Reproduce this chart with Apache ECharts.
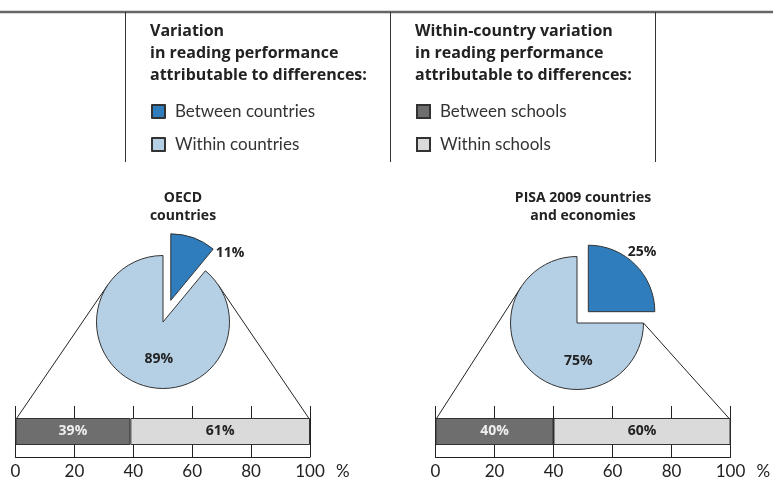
<!DOCTYPE html>
<html>
<head>
<meta charset="utf-8">
<script src="https://cdn.jsdelivr.net/npm/echarts@6/dist/echarts.min.js"></script>
</head>
<body style="margin:0;background:#fff">
<div id="main" style="width:773px;height:482px"></div>
<script>
// data
var pieTitles = ['OECD\ncountries', 'PISA 2009 countries\nand economies'];
var countryNames = ['Between countries', 'Within countries'];
var countryShares = [[11, 89], [25, 75]];
var schoolNames = ['Between schools', 'Within schools'];
var schoolShares = [[39, 61], [40, 60]];

// layout / style
var FONT = 'Lato';
var BOLD = 'Open Sans';
var blueDark = '#2f7dbd', blueLight = '#b5cfe5';
var grayDark = '#6e6e6e', grayLight = '#dadada';
var pieCenters = [[163, 322], [577, 323]];
var pieR = 66.5;
var pieOffsets = [23, 16];
var grids = [{left: 15.5, width: 294.5}, {left: 435.5, width: 295}];
var gridTop = 406, gridH = 51, barTop = 420;
// label nudges for [dark, light] slice of each pie
var labelShift = [[[47, -13], [8, 3]], [[28, -34], [27, 12]]];

var chart = echarts.init(document.getElementById('main'));

var series = [], xAxes = [], yAxes = [], gridOpt = [], titles = [], graphics = [];

var headStyle = {fontFamily: BOLD, fontSize: 16, fontWeight: 'bold', color: '#222', lineHeight: 22};
titles.push({text: 'Variation\nin reading performance\nattributable to differences:', left: 145, top: 15, textStyle: headStyle});
titles.push({text: 'Within-country variation\nin reading performance\nattributable to differences:', left: 410, top: 15, textStyle: headStyle});

// frame lines at top
graphics.push({type: 'line', shape: {x1: 0, y1: 12, x2: 773, y2: 12}, style: {stroke: '#666', lineWidth: 2.5}});
[125, 390, 655].forEach(function (x) {
  graphics.push({type: 'line', shape: {x1: x + 0.5, y1: 12, x2: x + 0.5, y2: 162}, style: {stroke: '#333', lineWidth: 1}});
});

countryShares.forEach(function (vals, k) {
  var c = pieCenters[k];
  titles.push({text: pieTitles[k], left: k === 0 ? 178 : 578, top: 184, textAlign: 'center',
    textStyle: {fontFamily: BOLD, fontSize: 14, fontWeight: 'bold', color: '#222', lineHeight: 18}});

  series.push({
    type: 'pie', center: c, radius: pieR, startAngle: 90, clockwise: true,
    selectedMode: 'single', selectedOffset: pieOffsets[k], animation: false, silent: true,
    itemStyle: {borderColor: '#333', borderWidth: 1},
    label: {show: true, position: 'inside', formatter: '{c}%', fontFamily: BOLD, fontSize: 14, fontWeight: 'bold', color: '#222'},
    labelLine: {show: false},
    labelLayout: function (p) {
      var s = labelShift[k][p.dataIndex];
      return {dx: s[0], dy: s[1]};
    },
    data: [
      {name: countryNames[0], value: vals[0], selected: true, itemStyle: {color: blueDark}},
      {name: countryNames[1], value: vals[1], itemStyle: {color: blueLight}}
    ]
  });

  // bar grid
  gridOpt.push({left: grids[k].left, width: grids[k].width, top: gridTop, height: gridH});
  xAxes.push({type: 'value', gridIndex: k, min: 0, max: 100, interval: 20,
    axisLine: {show: true, lineStyle: {color: '#222', width: 1}},
    axisTick: {show: false},
    splitLine: {show: true, lineStyle: {color: '#222', width: 1}},
    axisLabel: {fontFamily: FONT, fontSize: 17, color: '#222', margin: 6},
    name: '%', nameLocation: 'end', nameGap: 26,
    nameTextStyle: {fontFamily: FONT, fontSize: 17, color: '#222', verticalAlign: 'top', padding: [6, 0, 0, 0]}
  });
  yAxes.push({type: 'category', gridIndex: k, data: [''], show: false});
  var sv = schoolShares[k];
  [0, 1].forEach(function (j) {
    series.push({
      type: 'bar', name: schoolNames[j], xAxisIndex: k, yAxisIndex: k, stack: 'b' + k,
      barWidth: 27, silent: true, animation: false,
      itemStyle: {color: j === 0 ? grayDark : grayLight, borderColor: '#333', borderWidth: 1},
      label: {show: true, position: 'inside', formatter: '{c}%', fontFamily: BOLD, fontSize: 14, fontWeight: 'bold',
        color: j === 0 ? '#eee' : '#222'},
      data: [sv[j]]
    });
  });

  // connector lines from the bar's top corners to the pie
  var x0 = grids[k].left, x1 = grids[k].left + grids[k].width;
  function tangent(px, py, left) {
    var dx = px - c[0], dy = py - c[1];
    var d = Math.sqrt(dx * dx + dy * dy);
    var ang = Math.atan2(dy, dx) + (left ? 1 : -1) * Math.acos(pieR / d);
    if (!left) {
      // clockwise-from-top angle of the touch point; clamp to the slice edge
      var cw = ang + Math.PI / 2;
      var edge = vals[0] / 100 * 2 * Math.PI;
      if (cw < edge) ang = edge - Math.PI / 2;
    }
    return [c[0] + pieR * Math.cos(ang), c[1] + pieR * Math.sin(ang)];
  }
  var tl = tangent(x0, barTop, true), tr = tangent(x1, barTop, false);
  graphics.push({type: 'line', z: -1, shape: {x1: x0, y1: barTop, x2: tl[0], y2: tl[1]}, style: {stroke: '#222', lineWidth: 1}});
  graphics.push({type: 'line', z: -1, shape: {x1: x1, y1: barTop, x2: tr[0], y2: tr[1]}, style: {stroke: '#222', lineWidth: 1}});
});

var legendText = {fontFamily: FONT, fontSize: 17, color: '#333', padding: [0, 0, 0, 5]};
var option = {
  animation: false,
  title: titles,
  legend: [
    {data: countryNames, orient: 'vertical', left: 146, top: 98, itemGap: 16, itemWidth: 13, itemHeight: 13,
      icon: 'rect', selectedMode: false, textStyle: legendText},
    {data: schoolNames, orient: 'vertical', left: 411, top: 98, itemGap: 16, itemWidth: 13, itemHeight: 13,
      icon: 'rect', selectedMode: false, textStyle: legendText}
  ],
  grid: gridOpt,
  xAxis: xAxes,
  yAxis: yAxes,
  series: series,
  graphic: graphics
};
chart.setOption(option);
</script>
</body>
</html>
